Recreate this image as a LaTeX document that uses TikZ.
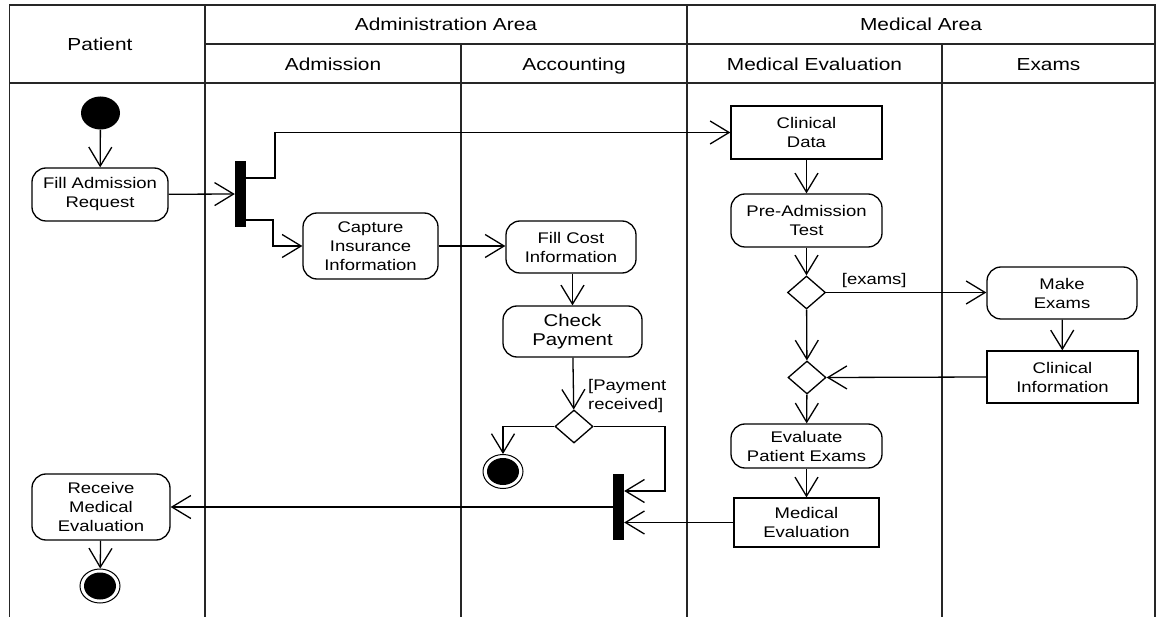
\documentclass[tikz,border=0pt]{standalone}
\usepackage{fontspec}
\setmainfont{Liberation Sans}[FakeStretch=1.2]
\usetikzlibrary{arrows.meta,shapes.geometric}
\begin{document}
\begin{tikzpicture}[x=1pt,y=-1pt,
  lane/.style={line width=1.6pt, draw=black!85},
  hdr/.style={font=\fontsize{17.4}{20}\selectfont, inner sep=0pt, text height=12.5pt, text depth=0pt},
  act/.style={draw, line width=1.3pt, rounded corners=14pt, align=center, inner sep=0pt,
    font=\fontsize{15.4}{19}\selectfont},
  obj/.style={draw, line width=1.3pt, align=center, inner sep=0pt,
    font=\fontsize{15.4}{19}\selectfont},
  bar/.style={fill=black, draw=none, minimum width=11pt, minimum height=66pt, inner sep=0pt},
  dec/.style={diamond, draw, line width=1.3pt, inner sep=0pt, aspect=1.15, minimum width=38pt, minimum height=33pt},
  startnode/.style={ellipse, fill=black, inner sep=0pt, minimum width=39pt, minimum height=33pt},
  endring/.style={ellipse, draw, line width=1pt, inner sep=0pt, minimum width=40pt, minimum height=34pt},
  arr/.style={line width=1.3pt, -{Straight Barb[length=19pt, width=23pt, line width=1.3pt]}},
  lbl/.style={font=\fontsize{15.4}{19}\selectfont, inner sep=0pt, align=left}]
\useasboundingbox (0,0) rectangle (1159,617);
% swimlane frame
\draw[lane] (9.5,617) -- (9.5,5) -- (1155,5) -- (1155,617);
\draw[lane] (205,5) -- (205,617);
\draw[lane] (687,5) -- (687,617);
\draw[lane] (461,44) -- (461,617);
\draw[lane] (942,44) -- (942,617);
\draw[lane] (205,44) -- (1155,44);
\draw[lane] (9.5,83) -- (1155,83);
% headers
\node[hdr] (hpat) at (100,44) {Patient};
\node[hdr] (hadm) at (446,24) {Administration Area};
\node[hdr] (hmed) at (921,24) {Medical Area};
\node[hdr] (hadmis) at (333,64) {Admission};
\node[hdr] (hacc) at (574,64) {Accounting};
\node[hdr] (hmev) at (814.5,64) {Medical Evaluation};
\node[hdr] (hexa) at (1048.5,64) {Exams};
% nodes
\node[startnode] (start) at (100.5,113) {};
\node[act, minimum width=136pt, minimum height=53pt] (fill) at (100,194.5) {Fill Admission\\Request};
\node[bar] (fork) at (240.5,194) {};
\node[act, minimum width=135pt, minimum height=66pt] (capture) at (370.5,246) {Capture\\Insurance\\Information};
\node[obj, minimum width=151pt, minimum height=53pt] (cdata) at (806.5,132.5) {Clinical\\Data};
\node[act, minimum width=130pt, minimum height=52pt] (fillcost) at (571,247) {Fill Cost\\Information};
\node[act, minimum width=139pt, minimum height=51pt] (check) at (572.5,331.5) {\fontsize{17}{20}\selectfont Check\\\fontsize{17}{20}\selectfont Payment};
\node[dec] (dpay) at (574,426.5) {};
\node[endring] (end1) at (503,471.5) {};
\node[ellipse, fill=black, inner sep=0pt, minimum width=32pt, minimum height=27pt] (end1in) at (end1) {};
\node[bar] (join) at (618.5,507) {};
\node[act, minimum width=138pt, minimum height=66pt] (receive) at (101,507) {Receive\\Medical\\Evaluation};
\node[endring] (end2) at (100,586) {};
\node[ellipse, fill=black, inner sep=0pt, minimum width=32pt, minimum height=27pt] (end2in) at (end2) {};
\node[act, minimum width=151pt, minimum height=53pt] (pre) at (806.5,220.5) {Pre-Admission\\Test};
\node[dec] (d1) at (806.5,292.5) {};
\node[act, minimum width=150pt, minimum height=52pt] (make) at (1062,293) {Make\\Exams};
\node[obj, minimum width=151pt, minimum height=52pt] (cinfo) at (1062.5,377) {Clinical\\Information};
\node[dec] (d2) at (807,377.5) {};
\node[act, minimum width=151pt, minimum height=44pt] (evalpe) at (806.5,446) {Evaluate\\Patient Exams};
\node[obj, minimum width=145pt, minimum height=49pt] (medeval) at (806.5,522.5) {Medical\\Evaluation};
% corner coordinates
\coordinate (c1) at (275,178);
\coordinate (c2) at (273,220);
\coordinate (c3) at (665,426.5);
% connectors
\draw[arr] (start) -- (fill);
\draw[arr] (fill) -- (fork);
\draw[arr] (fork.east |- c1) -- (c1) |- (cdata.west);
\draw[arr] (fork.east |- c2) -- (c2) |- (capture.west);
\draw[arr] (capture.east) -- (fillcost.west |- capture.east);
\draw[arr] (fillcost.south -| check.north) -- (check.north);
\draw[arr] (check) -- (dpay);
\draw[arr] (dpay.west) -| (end1.north);
\draw[arr] (dpay.east) -- (c3) |- ([yshift=16pt]join.east);
\draw[arr] (medeval.west) -- (join.east |- medeval.west);
\draw[arr] (join.west |- receive.east) -- (receive.east);
\draw[arr] (receive) -- (end2);
\draw[arr] (cdata) -- (pre);
\draw[arr] (pre) -- (d1);
\draw[arr] (d1.east) -- (make.west |- d1.east) node[lbl, pos=0.3, above=4pt] (lex) {[exams]};
\draw[arr] (make) -- (cinfo);
\draw[arr] (cinfo.west) -- (d2.east);
\draw[arr] (d1) -- (d2);
\draw[arr] (d2) -- (evalpe);
\draw[arr] (evalpe) -- (medeval);
\node[lbl, anchor=west] (lpay) at (588,396) {[Payment\\received]};
\end{tikzpicture}
\end{document}
